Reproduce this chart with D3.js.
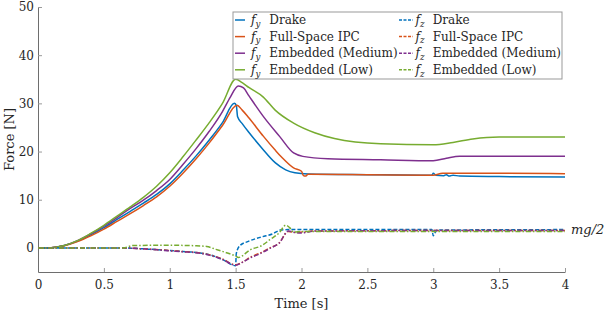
<!DOCTYPE html>
<html>
<head>
<meta charset="utf-8">
<script src="https://cdn.jsdelivr.net/npm/d3@7"></script>
<style>
  body { margin: 0; background: #fff; }
</style>
</head>
<body>
<div id="chart"></div>
<script>
// ---- data ----
const xTicks = [0, 0.5, 1, 1.5, 2, 2.5, 3, 3.5, 4];
const yTicks = [0, 10, 20, 30, 40, 50];

const fyDrake = [[0,0],[0.1,0.05],[0.2,0.5],[0.3,1.4],[0.4,2.7],[0.5,4.2],[0.6,5.9],[0.7,7.6],[0.8,9.3],[0.9,11.1],[1.0,13.3],[1.1,16.1],[1.2,19.1],[1.3,22.4],[1.4,26.0],[1.49,30.0],[1.505,29.6],[1.515,27.2],[1.55,25.8],[1.6,24.0],[1.7,20.7],[1.8,17.7],[1.88,16.2],[1.95,15.6],[2.05,15.35],[2.5,15.2],[2.99,15.1],[3.0,15.5],[3.02,15.1],[3.08,15.0],[3.1,15.2],[3.12,14.9],[3.15,15.1],[3.2,14.9],[3.5,14.8],[4.0,14.7]];
const fyIPC = [[0,0],[0.1,0.05],[0.2,0.45],[0.3,1.3],[0.4,2.5],[0.5,3.9],[0.6,5.5],[0.7,7.1],[0.8,8.8],[0.9,10.6],[1.0,12.8],[1.1,15.5],[1.2,18.5],[1.3,21.8],[1.4,25.4],[1.51,29.6],[1.55,28.6],[1.6,27.0],[1.71,23.2],[1.8,20.3],[1.85,18.8],[1.94,16.6],[2.0,15.9],[2.015,15.0],[2.03,14.9],[2.05,15.3],[2.5,15.2],[3.0,15.1],[3.07,15.5],[3.5,15.5],[4.0,15.4]];
const fyMedium = [[0,0],[0.1,0.05],[0.2,0.5],[0.3,1.5],[0.4,2.9],[0.5,4.5],[0.6,6.3],[0.7,8.2],[0.8,9.9],[0.9,11.9],[1.0,14.2],[1.1,17.3],[1.2,20.6],[1.3,24.2],[1.4,28.3],[1.46,31.3],[1.52,33.6],[1.56,33.2],[1.6,31.6],[1.71,27.3],[1.835,23.1],[1.94,19.7],[2.01,19.0],[2.2,18.5],[2.6,18.3],[3.0,18.1],[3.1,18.6],[3.2,19.0],[4.0,19.0]];
const fyLow = [[0,0],[0.1,0.05],[0.2,0.5],[0.3,1.5],[0.4,3.0],[0.5,4.7],[0.6,6.6],[0.7,8.5],[0.8,10.5],[0.9,12.8],[1.0,15.6],[1.1,18.9],[1.2,22.4],[1.3,26.0],[1.4,30.0],[1.5,35.0],[1.55,34.3],[1.6,33.3],[1.71,31.3],[1.8,28.6],[1.94,25.9],[2.1,23.9],[2.25,22.7],[2.6,21.6],[3.0,21.4],[3.15,21.9],[3.3,22.6],[3.5,23.0],[4.0,23.0]];

const fzDrake = [[0,0],[0.6,0],[0.7,-0.05],[0.8,-0.2],[0.9,-0.35],[1.0,-0.55],[1.1,-0.75],[1.2,-0.95],[1.3,-1.4],[1.4,-2.4],[1.5,-3.7],[1.505,-1.2],[1.53,0.4],[1.6,1.4],[1.7,2.3],[1.78,2.9],[1.84,3.7],[1.9,3.8],[2.5,3.8],[2.99,3.8],[3.0,2.5],[3.01,3.0],[3.03,3.7],[4.0,3.8]];
const fzIPC = [[0,0],[0.6,0],[0.7,-0.05],[0.8,-0.2],[0.9,-0.35],[1.0,-0.55],[1.1,-0.75],[1.2,-0.95],[1.3,-1.4],[1.4,-2.3],[1.5,-3.5],[1.55,-3.0],[1.607,-2.0],[1.7,-0.9],[1.76,0],[1.83,1.0],[1.9,3.4],[1.96,3.2],[2.1,3.5],[3.0,3.6],[4.0,3.6]];
const fzMedium = [[0,0],[0.6,0],[0.7,-0.05],[0.8,-0.2],[0.9,-0.4],[1.0,-0.6],[1.1,-0.8],[1.2,-1.0],[1.3,-1.5],[1.4,-2.4],[1.5,-3.6],[1.55,-3.0],[1.61,-2.1],[1.7,-1.0],[1.76,-0.1],[1.83,1.0],[1.9,3.5],[1.95,3.2],[2.0,3.1],[2.1,3.5],[3.0,3.6],[4.0,3.6]];
const fzLow = [[0,0],[0.65,0],[0.72,0.5],[1.0,0.55],[1.2,0.45],[1.28,0.3],[1.35,-0.3],[1.43,-1.0],[1.5,-1.7],[1.52,-2.0],[1.61,-0.4],[1.7,0.5],[1.76,1.7],[1.83,3.1],[1.88,4.7],[1.91,4.2],[1.94,3.3],[2.0,3.4],[3.0,3.4],[4.0,3.4]];

const methods = ['Drake', 'Full-Space IPC', 'Embedded (Medium)', 'Embedded (Low)'];
const colors = ['#0072BD', '#D95319', '#7E2F8E', '#77AC30'];
const fySeries = [fyDrake, fyIPC, fyMedium, fyLow];
const fzSeries = [fzDrake, fzIPC, fzMedium, fzLow];
const fzDash = ['4,2', '5,2,1.5,2', '5,2,1.5,2', '5,2,1.5,2'];

const FONT = 'DejaVu Serif';
const TXT = '#262626';
const fs = 12;

// ---- layout ----
const W = 604, H = 312;
const margin = { top: 7, right: 39, bottom: 40, left: 38 };
const width = W - margin.left - margin.right;
const height = H - margin.top - margin.bottom;

const svg = d3.select('#chart').append('svg')
  .attr('width', W)
  .attr('height', H)
  .attr('font-family', FONT);

const g = svg.append('g')
  .attr('transform', 'translate(' + margin.left + ',' + margin.top + ')');

const x = d3.scaleLinear().domain([0, 4]).range([0, width]);
const y = d3.scaleLinear().domain([-5, 50]).range([height, 0]);

// axes
const xAxis = g.append('g')
  .attr('transform', 'translate(0,' + height + ')')
  .call(d3.axisBottom(x).tickValues(xTicks).tickSizeInner(-4).tickSizeOuter(0).tickPadding(8)
    .tickFormat(d3.format('')));
const yAxis = g.append('g')
  .call(d3.axisLeft(y).tickValues(yTicks).tickSizeInner(-4).tickSizeOuter(0).tickPadding(4));

[xAxis, yAxis].forEach(function (a) {
  a.attr('font-family', FONT).attr('font-size', fs);
  a.select('.domain').attr('stroke', '#6e6e6e');
  a.selectAll('.tick line').attr('stroke', '#9a9a9a');
  a.selectAll('.tick text').attr('fill', TXT);
});

// lines
const line = d3.line()
  .x(function (d) { return x(d[0]); })
  .y(function (d) { return y(d[1]); })
  .curve(d3.curveMonotoneX);

const plot = g.append('g');
fySeries.forEach(function (s, i) {
  plot.append('path').datum(s)
    .attr('d', line)
    .attr('fill', 'none')
    .attr('stroke', colors[i])
    .attr('stroke-width', 1.5);
});
fzSeries.forEach(function (s, i) {
  plot.append('path').datum(s)
    .attr('d', line)
    .attr('fill', 'none')
    .attr('stroke', colors[i])
    .attr('stroke-width', 1.5)
    .attr('stroke-dasharray', fzDash[i]);
});

// axis labels
g.append('text')
  .attr('x', width / 2)
  .attr('y', height + 36)
  .attr('text-anchor', 'middle')
  .attr('font-family', FONT).attr('font-size', 13).attr('fill', TXT)
  .text('Time [s]');

g.append('text')
  .attr('transform', 'translate(' + (-24) + ',' + (height / 2) + ') rotate(-90)')
  .attr('text-anchor', 'middle')
  .attr('font-family', FONT).attr('font-size', 13).attr('fill', TXT)
  .text('Force [N]');

// mg/2 annotation
g.append('text')
  .attr('x', width + 6)
  .attr('y', y(3.7) + 4)
  .attr('font-family', FONT).attr('font-size', 13).attr('font-style', 'italic').attr('fill', TXT)
  .text('mg/2');

// legend
const legend = g.append('g').attr('transform', 'translate(195,5)');
legend.append('rect')
  .attr('width', 329).attr('height', 67)
  .attr('fill', '#fff')
  .attr('stroke', '#999').attr('stroke-width', 1);

const rowH = 16.6;
const cols = [
  { comp: 'y', line: [2, 12], f: 18, name: 36.3, dash: null },
  { comp: 'z', line: [166, 180], f: 182.5, name: 199.7, dash: '3,1.5' }
];
cols.forEach(function (c) {
  methods.forEach(function (m, i) {
    const yy = 8 + i * rowH;
    legend.append('line')
      .attr('x1', c.line[0]).attr('x2', c.line[1])
      .attr('y1', yy).attr('y2', yy)
      .attr('stroke', colors[i]).attr('stroke-width', 1.5)
      .attr('stroke-dasharray', c.dash);
    const t = legend.append('text')
      .attr('x', c.f).attr('y', yy + 4.2)
      .attr('font-family', FONT).attr('font-size', fs).attr('fill', TXT);
    t.append('tspan').attr('font-style', 'italic').text('f');
    t.append('tspan').attr('font-style', 'italic').attr('font-size', fs * 0.72)
      .attr('dy', 2.5).text(c.comp);
    legend.append('text')
      .attr('x', c.name).attr('y', yy + 4.2)
      .attr('font-family', FONT).attr('font-size', fs).attr('fill', TXT)
      .text(m);
  });
});
</script>
</body>
</html>
